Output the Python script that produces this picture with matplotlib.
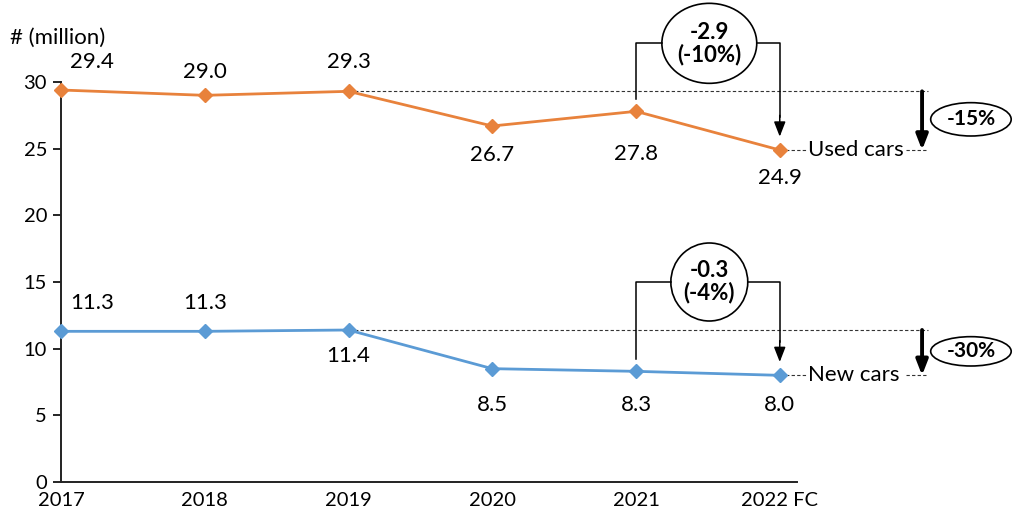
import matplotlib.pyplot as plt
from matplotlib.patches import Ellipse

plt.rcParams['font.family'] = ['Lato', 'DejaVu Sans']

years = ["2017", "2018", "2019", "2020", "2021", "2022 FC"]
used_cars = [29.4, 29.0, 29.3, 26.7, 27.8, 24.9]
new_cars = [11.3, 11.3, 11.4, 8.5, 8.3, 8.0]
# label offsets in pixels (dx, dy) from each point
used_offsets = [(31, 28), (0, 23), (0, 29), (0, -29), (0, -43), (0, -28)]
new_offsets = [(31, 28), (0, 28), (0, -26), (0, -36), (0, -34), (0, -30)]
yticks = [0, 5, 10, 15, 20, 25, 30]

orange = "#E8823C"
blue = "#5B9BD5"
FS = 16

fig = plt.figure(figsize=(10.24, 5.24), dpi=100)
ax = fig.add_axes([61 / 1024, 1 - 482 / 524, 736 / 1024, 400 / 524])

x = list(range(len(years)))
ax.plot(x, used_cars, color=orange, lw=2, marker="D", ms=7, clip_on=False, zorder=3)
ax.plot(x, new_cars, color=blue, lw=2, marker="D", ms=7, clip_on=False, zorder=3)

for series, offs in [(used_cars, used_offsets), (new_cars, new_offsets)]:
    for xi, v, (dx, dy) in zip(x, series, offs):
        ax.annotate(f"{v:.1f}", (xi, v), xytext=(dx, dy), textcoords="offset pixels",
                    ha="center", va="center", fontsize=FS)

ax.set_xlim(0, 5.12)
ax.set_ylim(0, 30)
ax.set_xticks(x)
ax.set_xticklabels(years, fontsize=14.5)
ax.set_yticks(yticks)
ax.set_yticklabels([str(t) for t in yticks], fontsize=14.5)
ax.tick_params(axis="x", length=0, pad=7)
ax.tick_params(axis="y", length=6, width=1.2, pad=4)
for s in ["top", "right"]:
    ax.spines[s].set_visible(False)
for s in ["left", "bottom"]:
    ax.spines[s].set_linewidth(1.4)
    ax.spines[s].set_color("#222222")

fig.text(10 / 1024, 1 - 38 / 524, "# (million)", fontsize=FS, va="center", ha="left")

x_end = 6.03
x_arrow = 5.99
x_pct = 6.33

def change_block(series, name, bracket_y, ell_w, ell_h, pct_h, pct_text, delta_text):
    base = series[2]
    last = series[-1]
    prev = series[-2]
    # dashed reference lines
    ax.plot([2, x_end], [base, base], ls=(0, (3, 2)), lw=0.8, color="#333333", clip_on=False)
    ax.plot([5, 5.19], [last, last], ls=(0, (3, 2)), lw=0.8, color="#333333", clip_on=False)
    ax.plot([5.88, x_end], [last, last], ls=(0, (3, 2)), lw=0.8, color="#333333", clip_on=False)
    ax.text(5.2, last, name, fontsize=FS, va="center", ha="left")
    # thick down arrow
    ax.annotate("", xy=(x_arrow, last), xytext=(x_arrow, base),
                arrowprops=dict(arrowstyle="-|>,head_width=0.35,head_length=0.9", lw=2.8,
                                color="black", shrinkA=0, shrinkB=0), annotation_clip=False)
    mid = (base + last) / 2 + 0.1
    ax.add_patch(Ellipse((x_pct, mid), 0.56, pct_h, fill=False, lw=1.2,
                         ec="black", clip_on=False))
    ax.text(x_pct, mid, pct_text, fontsize=15, fontweight="bold",
            ha="center", va="center")
    # bracket 2021 -> 2022
    cx = 4.51
    ax.plot([4, 4, cx - ell_w / 2], [prev + 0.9, bracket_y, bracket_y], color="black",
            lw=1.1, clip_on=False)
    ax.plot([cx + ell_w / 2, 5, 5], [bracket_y, bracket_y, last + 2.5], color="black",
            lw=1.1, clip_on=False)
    ax.annotate("", xy=(5, last + 1.0), xytext=(5, last + 2.6),
                arrowprops=dict(arrowstyle="-|>,head_width=0.35,head_length=0.9", lw=1.1,
                                color="black", shrinkA=0, shrinkB=0), annotation_clip=False)
    ax.add_patch(Ellipse((cx, bracket_y), ell_w, ell_h, fill=False, lw=1.2, ec="black",
                         clip_on=False))
    ax.text(cx, bracket_y, delta_text, fontsize=FS, fontweight="bold", ha="center",
            va="center", linespacing=1.05)

change_block(used_cars, "Used cars", 32.9, 0.66, 6.0, 2.5, "-15%", "-2.9\n(-10%)")
change_block(new_cars, "New cars", 15.0, 0.535, 5.85, 2.2, "-30%", "-0.3\n(-4%)")

fig.savefig("out.png", dpi=100)
